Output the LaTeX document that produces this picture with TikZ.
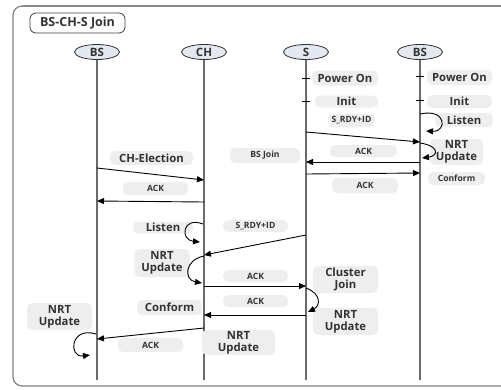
\documentclass[tikz,border=0pt]{standalone}
\usepackage{fontspec}
\setmainfont{Open Sans}
\usetikzlibrary{arrows.meta,shapes.geometric}
\definecolor{labgray}{HTML}{EEEEEE}
\definecolor{txt}{HTML}{333333}
\definecolor{ellfill}{HTML}{E3E8F1}
\definecolor{lifec}{HTML}{6A6A6A}
\tikzset{
  lab/.style={fill=labgray, rounded corners=5pt, text=txt, align=center,
    inner sep=0pt, font=\bfseries\fontsize{11.3}{12}\selectfont},
  slab/.style={lab, font=\bfseries\fontsize{8.6}{9.5}\selectfont},
  actor/.style={ellipse, draw=black!80, line width=0.8pt, fill=ellfill,
    minimum width=45pt, minimum height=15pt, inner sep=0pt, text=txt,
    font=\bfseries\fontsize{11.5}{12}\selectfont},
  life/.style={draw=lifec, line width=1.1pt},
  msg/.style={draw=black, line width=0.9pt, -{Triangle[length=7pt,width=6pt]}},
  tick/.style={draw=black, line width=1pt},
}
\begin{document}
\begin{tikzpicture}[x=1pt,y=-1pt]
\useasboundingbox (0,0) rectangle (501,389);
\clip (0,0) rectangle (501,389);
% frame
\draw[draw=gray, line width=1.2pt, rounded corners=9pt] (13,6) rectangle (540,386);
\draw[draw=gray!90, line width=2pt] (22,6) -- (501,6);
% title
\node[draw=black!75, line width=0.8pt, fill=white, rounded corners=6pt,
  minimum width=95pt, minimum height=20pt, inner sep=0pt, text=txt,
  font=\bfseries\fontsize{12.5}{13}\selectfont] (title) at (77.5,23) {BS-CH-S Join};
% actors
\node[actor] (bs) at (97,52) {BS};
\node[actor] (ch) at (204,52) {CH};
\node[actor] (s) at (306,52) {S};
\node[actor] (bs2) at (420,52) {BS};
\coordinate (bsend) at (97,380);
\coordinate (chend) at (204,380);
\coordinate (send) at (306,380);
\coordinate (bs2end) at (420,380);
\draw[life] (bs) -- (bsend);
\draw[life] (ch) -- (chend);
\draw[life] (s) -- (send);
\draw[life] (bs2) -- (bs2end);
% ticks
\draw[tick] ([xshift=-4pt]s |- 0,78) -- ([xshift=4pt]s |- 0,78);
\draw[tick] ([xshift=-4pt]s |- 0,101) -- ([xshift=4pt]s |- 0,101);
\draw[tick] ([xshift=-4pt]bs2 |- 0,76) -- ([xshift=4pt]bs2 |- 0,76);
\draw[tick] ([xshift=-4pt]bs2 |- 0,100) -- ([xshift=4pt]bs2 |- 0,100);
% labels
\node[lab, minimum width=66pt, minimum height=15pt] (pon1) at (345,78) {Power On};
\node[lab, minimum width=65pt, minimum height=15pt] (pon2) at (459.5,77.5) {Power On};
\node[lab, minimum width=63pt, minimum height=12pt] (init1) at (346.5,101.5) {Init};
\node[lab, minimum width=65pt, minimum height=13pt] (init2) at (459.5,101.5) {Init};
\node[slab, minimum width=47pt, minimum height=13pt] (rdy1) at (351.5,120.5) {S\_RDY+ID};
\node[lab, minimum width=58pt, minimum height=14pt] (lis2) at (464,120) {Listen};
\node[lab, minimum width=53pt, minimum height=26pt] (nrt2) at (456.5,152) {NRT\\Update};
\node[slab, minimum width=67pt, minimum height=12pt] (ack1) at (363.5,151) {ACK};
\node[slab, minimum width=70pt, minimum height=15pt] (bsjoin) at (265,155.5) {BS Join};
\node[slab, minimum width=66pt, minimum height=15pt] (ack2) at (365,185.5) {ACK};
\node[slab, minimum width=57pt, minimum height=13pt] (conf2) at (456.5,178.5) {Conform};
\node[lab, minimum width=83pt, minimum height=14pt] (chel) at (151.5,158) {CH-Election};
\node[slab, minimum width=65pt, minimum height=13pt] (ack3) at (155.5,188.5) {ACK};
\node[lab, minimum width=60pt, minimum height=12pt] (lisch) at (163,227.5) {Listen};
\node[slab, minimum width=65pt, minimum height=12pt] (rdy2) at (255.5,226) {S\_RDY+ID};
\node[lab, minimum width=55pt, minimum height=28pt] (nrtch) at (162,263) {NRT\\Update};
\node[slab, minimum width=65pt, minimum height=12pt] (ack4) at (255.5,276) {ACK};
\node[slab, minimum width=65pt, minimum height=12pt] (ack5) at (255.5,301) {ACK};
\node[lab, minimum width=65pt, minimum height=27pt] (cjoin) at (345.5,279.5) {Cluster\\Join};
\node[lab, minimum width=65pt, minimum height=27pt] (nrts) at (345.5,321.5) {NRT\\Update};
\node[lab, minimum width=65pt, minimum height=15pt] (confch) at (169.5,307.5) {Conform};
\node[lab, minimum width=65pt, minimum height=27pt] (nrtbs) at (59.5,316.5) {NRT\\Update};
\node[slab, minimum width=65pt, minimum height=14pt] (ack6) at (150.5,345) {ACK};
\node[lab, minimum width=73pt, minimum height=25pt] (nrtmid) at (238.5,342.5) {NRT\\Update};
% messages
\draw[msg] (s |- 0,132) -- (bs2 |- 0,142);
\draw[msg] (bs2 |- 0,162) -- (s |- 0,162);
\draw[msg] (s |- 0,174) -- (bs2 |- 0,173);
\draw[msg] (bs |- 0,168) -- (ch |- 0,180);
\draw[msg] (ch |- 0,202) -- (bs |- 0,201);
\draw[msg] (s |- 0,235) -- (ch |- 0,255);
\draw[msg] (ch |- 0,286) -- (s |- 0,286);
\draw[msg] (s |- 0,315) -- (ch |- 0,315);
\draw[msg] (ch |- 0,328) -- (bs |- 0,339);
% self loops
\draw[msg] (bs2 |- 0,114) .. controls (447,108) and (447,132) .. ([xshift=6pt]bs2 |- 0,131);
\draw[msg] (bs2 |- 0,143) .. controls (440,146) and (438,156) .. ([xshift=2pt]bs2 |- 0,158);
\draw[msg] ([xshift=-1pt]ch |- 0,224) .. controls (182,216) and (180,240) .. ([xshift=-4pt]ch |- 0,242);
\draw[msg] (ch |- 0,256) .. controls (184,260) and (184,280) .. ([xshift=-2pt]ch |- 0,283);
\draw[msg] (s |- 0,288) .. controls (322,294) and (320,306) .. ([xshift=2pt]s |- 0,312);
\draw[msg] ([xshift=-1pt]bs |- 0,334) .. controls (70,326) and (68,358) .. ([xshift=-7pt]bs |- 0,355);
\end{tikzpicture}
\end{document}
